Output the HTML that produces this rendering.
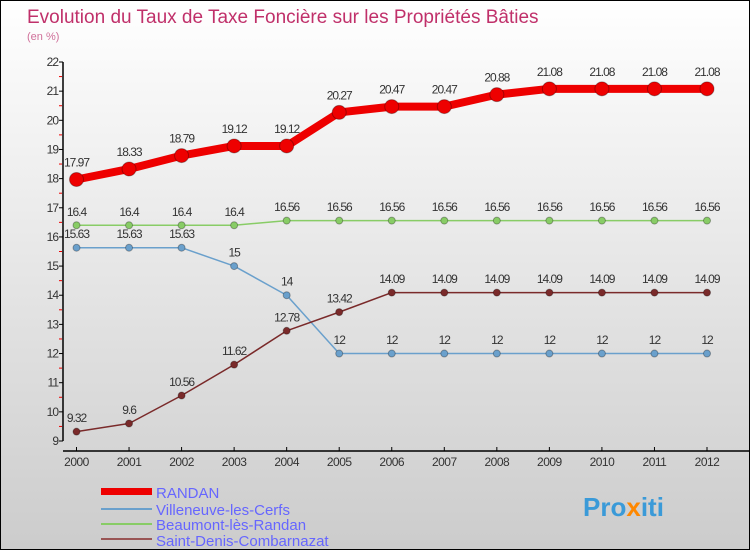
<!DOCTYPE html>
<html><head><meta charset="utf-8"><style>
body{margin:0}
#c{width:748px;height:548px;border:1px solid #000;background:linear-gradient(#fff,#ccc);position:relative;overflow:hidden;font-family:"Liberation Sans",sans-serif}
</style></head><body>
<div id="c">
<svg id="s" width="748" height="548" style="position:absolute;left:0;top:0">
<text x="26" y="22" font-size="19" fill="#c0306a">Evolution du Taux de Taxe Foncière sur les Propriétés Bâties</text>
<text x="26" y="39" font-size="11" fill="#d0709a">(en %)</text>
<g id="axes"></g><g id="series"></g>
<g>
<rect x="100" y="487" width="51" height="7" fill="#e00"/>
<text x="155" y="497" font-size="15" fill="#66f">RANDAN</text>
<rect x="100" y="507" width="51" height="2" fill="#6aa0cc"/>
<text x="155" y="514" font-size="15" fill="#66f">Villeneuve-les-Cerfs</text>
<rect x="100" y="522" width="51" height="2" fill="#8c6"/>
<text x="155" y="529" font-size="15" fill="#66f">Beaumont-lès-Randan</text>
<rect x="100" y="537" width="51" height="2" fill="#955"/>
<text x="155" y="545" font-size="15" fill="#66f">Saint-Denis-Combarnazat</text>
</g>
<text x="582" y="515" font-size="26" font-weight="bold" fill="#3a9ad8">Pro<tspan fill="#f80">x</tspan>iti</text>
</svg>
</div>
<script>
const years=[2000,2001,2002,2003,2004,2005,2006,2007,2008,2009,2010,2011,2012];
const yTicks=[9,10,11,12,13,14,15,16,17,18,19,20,21,22];
const randan=[17.97,18.33,18.79,19.12,19.12,20.27,20.47,20.47,20.88,21.08,21.08,21.08,21.08];
const villeneuve=[15.63,15.63,15.63,15,14,12,12,12,12,12,12,12,12];
const beaumont=[16.4,16.4,16.4,16.4,16.56,16.56,16.56,16.56,16.56,16.56,16.56,16.56,16.56];
const saintDenis=[9.32,9.6,10.56,11.62,12.78,13.42,14.09,14.09,14.09,14.09,14.09,14.09,14.09];
const NS='http://www.w3.org/2000/svg';
const X=i=>75.5+i*(706-75.5)/12;
const Y=v=>61+(22-v)*(440-61)/13;
function mk(t,a,p){const e=document.createElementNS(NS,t);for(const k in a)e.setAttribute(k,a[k]);p.appendChild(e);return e;}
const ax=document.getElementById('axes');
const yAxis=mk('line',{x1:62,y1:61,x2:62,y2:440,stroke:'#000','stroke-width':1.5},ax);


const xAxis=mk('line',{x1:62,y1:450,x2:748,y2:450,stroke:'#000','stroke-width':1.5},ax);


yTicks.forEach(v=>{
  mk('line',{x1:58,y1:Y(v),x2:62,y2:Y(v),stroke:'#000'},ax);
  if(v<22)mk('line',{x1:58,y1:Y(v+0.5),x2:61,y2:Y(v+0.5),stroke:'#e00'},ax);
  const t=mk('text',{x:57,y:Y(v)+4,'font-size':12,'text-anchor':'end',fill:'#333','letter-spacing':'-1'},ax);
  t.textContent=v;
  
  
});
years.forEach((y,i)=>{
  mk('line',{x1:X(i),y1:446,x2:X(i),y2:450,stroke:'#000'},ax);
  const t=mk('text',{x:X(i),y:465,'font-size':12,'text-anchor':'middle',fill:'#333','letter-spacing':'-0.5'},ax);
  t.textContent=y;
  
  
});
const sg=document.getElementById('series');
function series(data,col,w,r,name){
  const g=mk('g',{},sg);
  
  
  mk('polyline',{points:data.map((v,i)=>X(i)+','+Y(v)).join(' '),fill:'none',stroke:col,'stroke-width':w,'stroke-linejoin':'round'},g);
  data.forEach((v,i)=>{
    const c=mk('circle',{cx:X(i),cy:Y(v),r:r,fill:col,stroke:'rgba(0,0,0,0.3)','stroke-width':1},g);
    
    
    const t=mk('text',{x:X(i),y:Y(v)-(r+6),'font-size':12,'text-anchor':'middle',fill:'#333','letter-spacing':'-1'},g);
    t.textContent=String(v);
    
    
  });
}
series(beaumont,'#8c6',1.5,3.5,'beaumont-series');
series(villeneuve,'#6aa0cc',1.5,3.5,'villeneuve-series');
series(saintDenis,'#7a2a2a',1.5,3.5,'saint-denis-series');
series(randan,'#e00',8,7,'randan-series');
</script>
</body></html>
